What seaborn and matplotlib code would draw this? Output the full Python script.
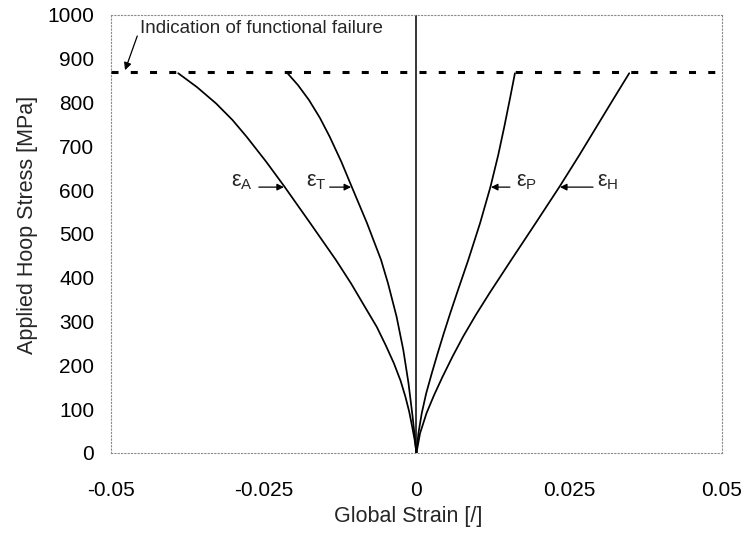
import matplotlib
matplotlib.use("Agg")
import matplotlib.pyplot as plt
import seaborn as sns
import pandas as pd

# Global strain components versus applied hoop stress
stress_A = [0, 30, 60, 95, 128, 165, 205, 245, 288, 335, 387, 441, 525, 608,
            665, 722, 760, 798, 835, 867]
strain_A = [0, -0.0003, -0.0007, -0.0012, -0.0018, -0.0026, -0.0037, -0.0050,
            -0.0065, -0.0085, -0.0107, -0.0132, -0.0174, -0.0216, -0.0246,
            -0.0278, -0.0301, -0.0328, -0.0359, -0.0390]

stress_T = [0, 40, 83, 159, 235, 311, 387, 441, 525, 608, 665, 722, 765, 806,
            840, 870]
strain_T = [0, -0.0003, -0.00063, -0.0013, -0.00215, -0.00325, -0.00465,
            -0.0058, -0.0081, -0.0106, -0.0123, -0.0142, -0.0158, -0.0176,
            -0.0194, -0.0213]

stress_P = [0, 45, 91, 136, 182, 228, 273, 320, 365, 441, 525, 608, 680, 745,
            810, 867]
strain_P = [0, 0.00032, 0.00087, 0.00159, 0.00251, 0.00348, 0.00447, 0.00555,
            0.00663, 0.00849, 0.01042, 0.01212, 0.01338, 0.01438, 0.01532,
            0.01612]

stress_H = [0, 45, 91, 132, 174, 220, 266, 315, 365, 441, 525, 608, 680, 745,
            810, 867]
strain_H = [0, 0.00059, 0.00165, 0.00288, 0.00427, 0.0059, 0.00765, 0.00971,
            0.01196, 0.01553, 0.01952, 0.02342, 0.02666, 0.02949, 0.03232,
            0.03483]

failure_stress = 870
x_ticks = [-0.05, -0.025, 0, 0.025, 0.05]
x_tick_labels = ["-0.05", "-0.025", "0", "0.025", "0.05"]
y_ticks = list(range(0, 1001, 100))

frames = []
for name, xs, ys in [("A", strain_A, stress_A), ("T", strain_T, stress_T),
                     ("P", strain_P, stress_P), ("H", strain_H, stress_H)]:
    frames.append(pd.DataFrame({"strain": xs, "stress": ys, "component": name}))
df = pd.concat(frames, ignore_index=True)

sns.set_theme(style="white")
plt.rcParams["font.family"] = ["Liberation Sans", "DejaVu Sans"]

fig = plt.figure(figsize=(7.45, 5.35), dpi=100)
ax = fig.add_axes([0.149, 0.1533, 0.82, 0.8187])

sns.lineplot(data=df, x="strain", y="stress", units="component",
             estimator=None, sort=False, color="black", linewidth=1.25,
             ax=ax, legend=False)

# Failure level and zero-strain axis
ax.axhline(failure_stress, color="black", linewidth=2.2,
           linestyle=(0, (2.3, 4.0)), zorder=3)
ax.axvline(0, color="black", linewidth=1.1, zorder=2)

ax.set_xlim(-0.05, 0.05)
ax.set_ylim(0, 1000)
ax.set_xticks(x_ticks)
ax.set_xticklabels(x_tick_labels)
ax.set_yticks(y_ticks)

for sp in ax.spines.values():
    sp.set_visible(True)
    sp.set_color("#8a8a8a")
    sp.set_linewidth(0.8)
    sp.set_linestyle((0, (1, 2)))

ax.tick_params(axis="both", which="major", labelsize=15, colors="black",
               length=3, width=0.7, direction="out")
ax.tick_params(axis="y", pad=9, color="#8a8a8a")
ax.tick_params(axis="x", pad=17, color="#8a8a8a")

ax.set_xlabel("Global Strain [/]", fontsize=15.5, va="center")
ax.set_ylabel("Applied Hoop Stress [MPa]", fontsize=15.5, va="center")
ax.xaxis.set_label_coords(0.486, -0.146)
ax.yaxis.set_label_coords(-0.1375, 0.52)

# Failure annotation
ax.text(-0.0453, 970, "Indication of functional failure", fontsize=13.5,
        va="center", ha="left")
ax.annotate("", xy=(-0.0477, failure_stress + 4), xytext=(-0.0457, 952),
            arrowprops=dict(arrowstyle="-|>", color="black", lw=0.9,
                            mutation_scale=11, shrinkA=0, shrinkB=0))

# Component labels with arrows pointing at each curve
label_y = 607
labels = [
    (r"ε$_\mathregular{A}$", -0.0304, -0.0258, -0.0217),
    (r"ε$_\mathregular{T}$", -0.0180, -0.0142, -0.0107),
    (r"ε$_\mathregular{P}$", 0.0163, 0.0153, 0.0122),
    (r"ε$_\mathregular{H}$", 0.0295, 0.0289, 0.0235),
]
for text, tx, ax0, ax1 in labels:
    ax.text(tx, label_y + 12, text, fontsize=15.5, va="center", ha="left")
    ax.annotate("", xy=(ax1, label_y), xytext=(ax0, label_y),
                arrowprops=dict(arrowstyle="-|>", color="black", lw=0.9,
                                mutation_scale=10, shrinkA=0, shrinkB=0))

fig.savefig("out.png", dpi=100)
